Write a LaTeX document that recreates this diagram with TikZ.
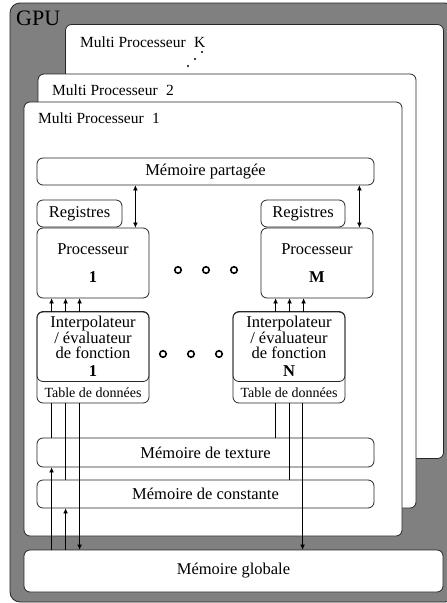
\documentclass[tikz,border=0pt]{standalone}
\usepackage{fontspec}
\setmainfont{Liberation Serif}
\usetikzlibrary{positioning}
\usetikzlibrary{arrows.meta}

\begin{document}
\begin{tikzpicture}[x=1pt, y=-1pt, >={Latex[length=5pt,width=4.5pt]},
    box/.style={draw=black!85, line width=0.8pt, rounded corners=6pt, inner sep=0pt},
    mpbox/.style={box, fill=white, minimum width=378pt, minimum height=434pt},
    txt/.style={font=\fontsize{16.5}{15.5}\selectfont, align=center},
    ring/.style={draw, circle, line width=1.6pt, minimum size=6.5pt, inner sep=0pt}]
    \useasboundingbox (0,0) rectangle (447,603);
    % GPU
    \node[box, fill=black!50, rounded corners=10pt, minimum width=445pt, minimum height=599pt] (gpu) at (232.5,302.5) {};
    \node[anchor=base west, inner sep=0pt, font=\fontsize{22}{22}\selectfont] (gpulbl) at (16,25) {GPU};
    % multi processeurs
    \node[mpbox] (mpK) at (254.5,241.5) {};
    \node[mpbox] (mp2) at (227,291) {};
    \node[mpbox] (mp1) at (213,319) {};
    \node[txt, font=\fontsize{15.5}{15.5}\selectfont, anchor=base west, inner sep=0pt] (lblK) at (80,47) {Multi Processeur\hspace{0.55em}K};
    \node[txt, font=\fontsize{15.5}{15.5}\selectfont, anchor=base west, inner sep=0pt] (lbl2) at (52,95) {Multi Processeur\hspace{0.55em}2};
    \node[txt, font=\fontsize{15.5}{15.5}\selectfont, anchor=base west, inner sep=0pt] (lbl1) at (38,123) {Multi Processeur\hspace{0.55em}1};
    \foreach \x/\y in {188/66, 195/59, 202/52}
        \fill (\x,\y) circle (1.1);
    % memoires
    \node[box, txt, minimum width=337pt, minimum height=27pt] (shared) at (205.5,171.5) {Mémoire partagée};
    \node[box, txt, minimum width=337pt, minimum height=29pt] (texture) at (205.5,452.5) {Mémoire de texture};
    \node[box, txt, minimum width=337pt, minimum height=28pt] (const) at (205.5,494) {Mémoire de constante};
    \node[box, txt, fill=white, minimum width=419pt, minimum height=42pt] (global) at (233.5,571) {Mémoire globale};
    % processeurs
    \node[box, txt, minimum width=85pt, minimum height=27pt] (reg1) at (79.5,213.5) {Registres};
    \node[box, txt, minimum width=84pt, minimum height=27pt] (regM) at (303,213.5) {Registres};
    \node[box, txt, minimum width=112pt, minimum height=70pt] (proc1) at (93,263) {Processeur\\[12pt]\textbf{1}};
    \node[box, txt, minimum width=112pt, minimum height=70pt] (procM) at (317,263) {Processeur\\[12pt]\textbf{M}};
    \foreach \x in {178,206,234}
        \node[ring] (pr\x) at (\x,270) {};
    % interpolateurs
    \node[box, minimum width=112pt, minimum height=91pt] (interp1) at (93,357.5) {};
    \node[box, txt, minimum width=112pt, minimum height=70pt] (fn1) at (93,346.5) {Interpolateur\\/ évaluateur\\de fonction\\[2pt]\textbf{1}};
    \node[font=\fontsize{14}{14}\selectfont] (tab1) at (93,392.5) {Table de données};
    \node[box, minimum width=112pt, minimum height=91pt] (interpN) at (289,357.5) {};
    \node[box, txt, minimum width=112pt, minimum height=70pt] (fnN) at (289,346.5) {Interpolateur\\/ évaluateur\\de fonction\\[2pt]\textbf{N}};
    \node[font=\fontsize{14}{14}\selectfont] (tabN) at (289,392.5) {Table de données};
    \foreach \x in {163,191,219}
        \node[ring] (ir\x) at (\x,354) {};
    % liaisons
    \draw[<->] ([xshift=-14pt]proc1.north east |- shared.south) -- ([xshift=-14pt]proc1.north east);
    \draw[<->] ([xshift=-14pt]procM.north east |- shared.south) -- ([xshift=-14pt]procM.north east);
    \foreach \d in {15,29,43} {
        \draw[->] ([xshift=\d pt]proc1.south west |- interp1.north) -- ([xshift=\d pt]proc1.south west);
        \draw[->] ([xshift=\d pt]procM.south west |- interpN.north) -- ([xshift=\d pt]procM.south west);
    }
    \draw ([xshift=15pt]proc1.south west |- interp1.south) -- ([xshift=15pt]proc1.south west |- texture.north);
    \draw[->] ([xshift=15pt]proc1.south west |- global.north) -- ([xshift=15pt]proc1.south west |- texture.south);
    \draw ([xshift=29pt]proc1.south west |- interp1.south) -- ([xshift=29pt]proc1.south west |- const.north);
    \draw[->] ([xshift=29pt]proc1.south west |- global.north) -- ([xshift=29pt]proc1.south west |- const.south);
    \draw[->] ([xshift=43pt]proc1.south west |- interp1.south) -- ([xshift=43pt]proc1.south west |- global.north);
    \draw ([xshift=15pt]procM.south west |- interpN.south) -- ([xshift=15pt]procM.south west |- texture.north);
    \draw ([xshift=29pt]procM.south west |- interpN.south) -- ([xshift=29pt]procM.south west |- const.north);
    \draw[->] ([xshift=42pt]procM.south west |- interpN.south) -- ([xshift=42pt]procM.south west |- global.north);
\end{tikzpicture}
\end{document}
